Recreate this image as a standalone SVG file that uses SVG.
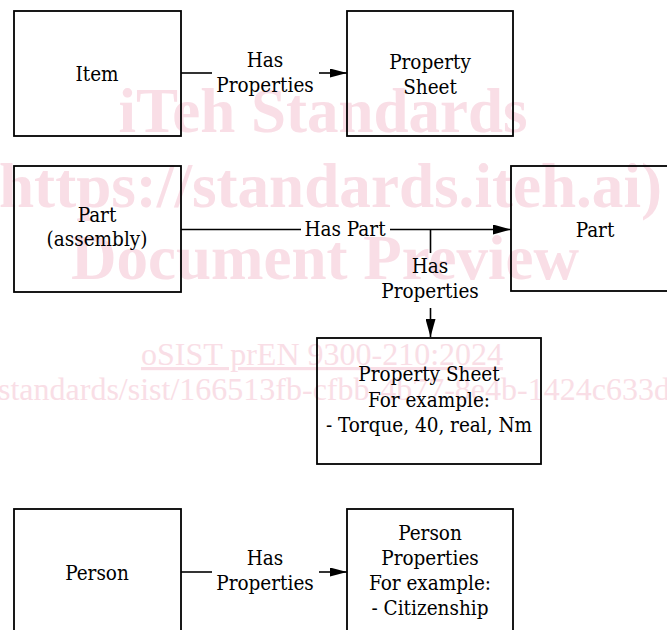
<svg xmlns="http://www.w3.org/2000/svg" width="667" height="630" viewBox="0 0 667 630">
<style>
  .wm { fill: #f9dee6; font-family: 'Liberation Serif', 'Times New Roman', serif; }
  .wmb { font-weight: bold; font-size: 63px; }
  .box { fill: none; stroke: #000; stroke-width: 1.8; }
  .lbl { font-family: 'DejaVu Serif Condensed', 'DejaVu Serif', serif; font-stretch: condensed; font-size: 20.5px; fill: #000; text-anchor: middle; }
  .con { stroke: #000; stroke-width: 1.6; fill: none; }
</style>
<defs>
  <marker id="ahS" markerUnits="userSpaceOnUse" markerWidth="17" markerHeight="9" refX="17" refY="4.5" orient="auto">
    <path d="M0,0 L17,4.5 L0,9 z" fill="#000"/>
  </marker>
  <marker id="ahL" markerUnits="userSpaceOnUse" markerWidth="18" markerHeight="10" refX="18" refY="5" orient="auto">
    <path d="M0,0 L18,5 L0,10 z" fill="#000"/>
  </marker>
</defs>
<rect width="667" height="630" fill="#fff"/>
<g id="watermark">
  <text class="wm wmb" x="323" y="132" text-anchor="middle">iTeh Standards</text>
  <text class="wm wmb" x="-1" y="207" textLength="663" lengthAdjust="spacingAndGlyphs">https://standards.iteh.ai)</text>
  <text class="wm wmb" x="325" y="279" text-anchor="middle">Document Preview</text>
  <text class="wm" x="322" y="365" text-anchor="middle" font-size="32" text-decoration="underline">oSIST prEN 9300-210:2024</text>
  <text class="wm" x="-2" y="400" font-size="32">standards/sist/166513fb-cfbb-4b77-8e4b-1424c633d</text>
</g>
<g id="connectors">
  <line class="con" x1="181" y1="73" x2="212" y2="73"/>
  <line class="con" x1="319" y1="73" x2="347" y2="73" marker-end="url(#ahS)"/>
  <line class="con" x1="181" y1="229.5" x2="301" y2="229.5"/>
  <line class="con" x1="390" y1="229.5" x2="511" y2="229.5" marker-end="url(#ahL)"/>
  <line class="con" x1="430.5" y1="229.5" x2="430.5" y2="253"/>
  <line class="con" x1="430.5" y1="308" x2="430.5" y2="337" marker-end="url(#ahL)"/>
  <line class="con" x1="181" y1="572" x2="212" y2="572"/>
  <line class="con" x1="319" y1="572" x2="347" y2="572" marker-end="url(#ahS)"/>
  <text class="lbl" x="265" y="67">Has</text>
  <text class="lbl" x="265" y="91.5">Properties</text>
  <text class="lbl" x="345" y="236">Has Part</text>
  <text class="lbl" x="430" y="273">Has</text>
  <text class="lbl" x="430" y="298">Properties</text>
  <text class="lbl" x="265" y="565">Has</text>
  <text class="lbl" x="265" y="590">Properties</text>
</g>
<g id="item">
  <rect class="box" x="14" y="11" width="167" height="125"/>
  <text class="lbl" x="97" y="81">Item</text>
</g>
<g id="property-sheet">
  <rect class="box" x="347" y="11" width="166" height="125"/>
  <text class="lbl" x="430" y="68.5">Property</text>
  <text class="lbl" x="430" y="93.5">Sheet</text>
</g>
<g id="part-assembly">
  <rect class="box" x="14" y="166" width="167" height="126"/>
  <text class="lbl" x="97" y="221.5">Part</text>
  <text class="lbl" x="97" y="246">(assembly)</text>
</g>
<g id="part">
  <rect class="box" x="511" y="166" width="170" height="125"/>
  <text class="lbl" x="595" y="236.5">Part</text>
</g>
<g id="property-sheet-example">
  <rect class="box" x="317" y="338" width="224" height="126"/>
  <text class="lbl" x="429" y="381">Property Sheet</text>
  <text class="lbl" x="429" y="406.5">For example:</text>
  <text class="lbl" x="429" y="431.5">- Torque, 40, real, Nm</text>
</g>
<g id="person">
  <rect class="box" x="14" y="509" width="167" height="135"/>
  <text class="lbl" x="97" y="580">Person</text>
</g>
<g id="person-properties">
  <rect class="box" x="347" y="509" width="166" height="135"/>
  <text class="lbl" x="430" y="540">Person</text>
  <text class="lbl" x="430" y="565">Properties</text>
  <text class="lbl" x="430" y="590">For example:</text>
  <text class="lbl" x="430" y="614.5">- Citizenship</text>
</g>
</svg>
